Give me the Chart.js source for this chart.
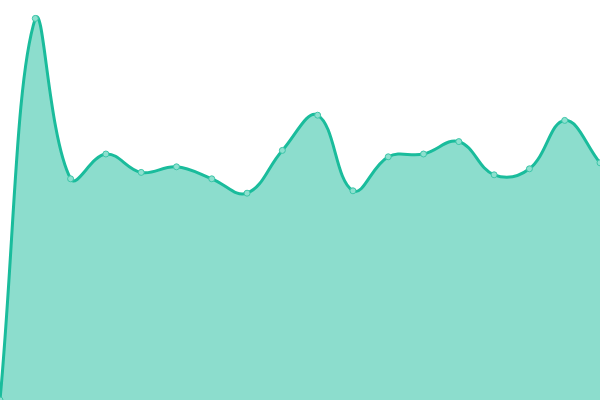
<!DOCTYPE html>
<html>
<head>
<meta charset="utf-8">
<script src="https://cdn.jsdelivr.net/npm/chart.js@4/dist/chart.umd.min.js"></script>
<style>
    html, body { margin: 0; padding: 0; background: #fff; }
    #contenedor { width: 600px; height: 400px; }
</style>
</head>
<body>
<div id="contenedor"><canvas id="grafica"></canvas></div>
<script>
const etiquetas = ["1", "2", "3", "4", "5", "6", "7", "8", "9", "10", "11", "12", "13", "14", "15", "16", "17", "18"];
const valores = [0, 95.4, 55.3, 61.5, 56.9, 58.3, 55.3, 51.7, 62.4, 71.2, 52.3, 60.8, 61.5, 64.6, 56.3, 57.8, 69.9, 59.3];
const ejeMin = 0;
const ejeMax = 100;

const ctx = document.getElementById("grafica");
const grafica = new Chart(ctx, {
    type: "line",
    data: {
        labels: etiquetas,
        datasets: [
            {
                data: valores,
                fill: true,
                tension: 0.4,
                borderColor: "#1abc9c",
                backgroundColor: "rgba(26, 188, 156, 0.5)",
                borderWidth: 3,
                pointRadius: 3,
                pointBorderWidth: 1,
                pointBackgroundColor: "#8de0cf",
                pointBorderColor: "#3cc5a8",
            },
        ],
    },
    options: {
        animation: false,
        responsive: true,
        maintainAspectRatio: false,
        layout: { padding: 0, autoPadding: false },
        plugins: {
            legend: { display: false },
            tooltip: { enabled: false },
        },
        scales: {
            x: { display: false },
            y: { display: false, min: ejeMin, max: ejeMax },
        },
    },
});
</script>
</body>
</html>
